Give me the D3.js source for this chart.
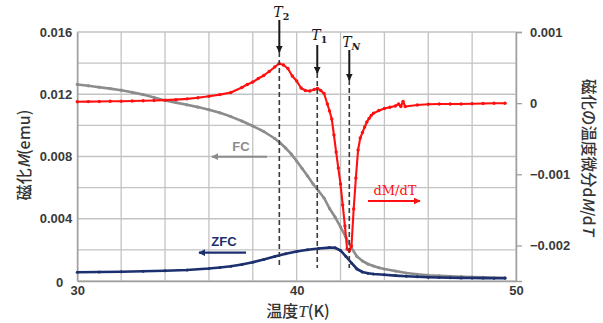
<!DOCTYPE html>
<html>
<head>
<meta charset="utf-8">
<script src="https://cdn.jsdelivr.net/npm/d3@7"></script>
<style>
  html, body { margin: 0; padding: 0; background: #fff; }
  svg { display: block; }
  .tick text { font-family: "Liberation Sans", Arial, sans-serif; font-weight: bold; font-size: 13px; fill: #3a3a3a; }
</style>
</head>
<body>
<svg id="chart" width="603" height="323"></svg>
<script>
// Temperature (K), field-cooled magnetisation (emu)
const fcT = [30,30.5,31,31.5,32,32.5,33,33.5,34,34.5,35,35.5,36,36.5,37,37.5,38,38.5,39,39.25,39.5,39.75,40,40.25,40.5,40.75,41,41.25,41.5,41.75,42,42.25,42.5,42.75,43,43.25,43.5,43.75,44,44.5,45,45.5,46,46.5,47,47.5,48,48.5,49,49.5];
const fcM = [0.01263,0.012543,0.012453,0.012363,0.01226,0.012125,0.011977,0.011798,0.011598,0.011463,0.011322,0.011174,0.011007,0.010808,0.010564,0.010281,0.00996,0.009606,0.009157,0.008867,0.008546,0.008161,0.007711,0.007229,0.006747,0.006233,0.005783,0.005333,0.00466,0.004112,0.00347,0.002795,0.00212,0.001574,0.001285,0.001092,0.000964,0.000855,0.000771,0.000643,0.000514,0.00043,0.000373,0.000334,0.000302,0.000276,0.000257,0.000238,0.000225,0.000212];

// Zero-field-cooled magnetisation (emu)
const zfcT = [30,31,32,33,34,35,36,36.5,37,37.5,38,38.5,39,39.5,40,40.5,41,41.5,41.75,42,42.25,42.5,42.75,43,43.25,43.5,44,44.5,45,45.5,46,46.5,47,47.5,48,48.5,49,49.5];
const zfcM = [0.000559,0.000578,0.000598,0.000623,0.000655,0.000707,0.000803,0.000867,0.000945,0.00106,0.001208,0.001382,0.001574,0.001748,0.001896,0.002005,0.002088,0.002146,0.002134,0.00196,0.001574,0.001157,0.000771,0.000578,0.000495,0.00045,0.000398,0.000347,0.000302,0.00027,0.000244,0.000225,0.000212,0.000199,0.000193,0.000186,0.00018,0.000173];

// Temperature derivative dM/dT (emu/K)
const dT = [30,30.5,31,31.5,32,32.5,33,33.5,34,34.5,35,35.5,36,36.5,37,37.5,37.75,38,38.25,38.5,38.75,39,39.2,39.4,39.6,39.8,40,40.2,40.4,40.6,40.8,40.95,41.1,41.25,41.4,41.5,41.6,41.7,41.8,41.9,42,42.1,42.2,42.3,42.4,42.5,42.6,42.7,42.8,42.9,43,43.1,43.2,43.3,43.4,43.5,43.75,44,44.25,44.5,44.65,44.75,44.85,44.95,45.5,46,46.5,47,47.5,48,48.5,49,49.5];
const dMdT = [0.00002,0.000022,0.000023,0.000026,0.000027,0.00003,0.000034,0.000037,0.000043,0.00005,0.00006,0.000075,0.000096,0.00012,0.00015,0.00022,0.000262,0.000297,0.000346,0.000389,0.000445,0.000508,0.000557,0.000536,0.000487,0.000382,0.000311,0.000213,0.000178,0.000171,0.000192,0.000206,0.000178,0.000136,-0.000012,-0.000111,-0.000223,-0.000448,-0.000687,-0.000912,-0.001137,-0.001432,-0.001727,-0.00205,-0.002078,-0.002008,-0.001488,-0.001052,-0.000659,-0.00049,-0.000413,-0.000335,-0.000265,-0.000216,-0.000174,-0.000143,-0.000103,-0.000075,-0.000058,-0.00004,-0.000012,-0.000047,0.000023,-0.000047,-0.000026,-0.000016,-0.000012,-0.000012,-0.000012,-0.000008,-0.000004,-0.000002,-0.000002];

// Axis ticks
const xTicks = [30, 40, 50];
const xGrid = [30,32,34,36,38,40,42,44,46,48,50];
const leftTicks = [0, 0.004, 0.008, 0.012, 0.016];
const leftGrid = [0,0.002,0.004,0.006,0.008,0.01,0.012,0.014,0.016];
const rightTicks = [0.001, 0, -0.001, -0.002];

// Transition temperatures (K)
const transitions = [
  { sub: "2", T: 39.21 },
  { sub: "1", T: 40.94 },
  { sub: "N", T: 42.40 }
];

const svg = d3.select("#chart");
const L = 77.3, R = 516, Tp = 32, B = 281;

const x = d3.scaleLinear().domain([30, 50]).range([L, R]);
const yL = d3.scaleLinear().domain([0, 0.016]).range([B, Tp]);
const yR = d3.scaleLinear().domain([-0.0025, 0.001]).range([B, Tp]);

const gridColor = "#c3c3c3";

// grid
svg.append("g").selectAll("line").data(xGrid).join("line")
  .attr("x1", d => x(d)).attr("x2", d => x(d)).attr("y1", Tp).attr("y2", B)
  .attr("stroke", gridColor).attr("stroke-width", 1.3);
svg.append("g").selectAll("line").data(leftGrid).join("line")
  .attr("x1", L).attr("x2", R).attr("y1", d => yL(d)).attr("y2", d => yL(d))
  .attr("stroke", gridColor).attr("stroke-width", 1.3);

// axes
const fmtL = d => d === 0 ? "0" : d3.format(".3f")(d);
const gx = svg.append("g").attr("transform", `translate(0,${B})`)
  .call(d3.axisBottom(x).tickValues(xTicks).tickSize(0).tickPadding(5).tickFormat(d3.format("d")));
const gl = svg.append("g").attr("transform", `translate(${L},0)`)
  .call(d3.axisLeft(yL).tickValues(leftTicks).tickSize(0).tickPadding(5).tickFormat(fmtL));
const gr = svg.append("g").attr("transform", `translate(${R},0)`)
  .call(d3.axisRight(yR).tickValues(rightTicks).tickSize(6).tickPadding(8).tickFormat(d => d === 0 ? "0" : d3.format(".3f")(d)));
[gx, gl, gr].forEach(g => {
  g.select(".domain").attr("stroke", "#a0a0a0").attr("stroke-width", 1.5);
  g.selectAll(".tick line").attr("stroke", "#a0a0a0").attr("stroke-width", 1.3);
});
gl.selectAll(".tick text").filter(d => d === 0).attr("dx", -9).attr("dy", "0.45em");

// axis titles
const cjk = "'Noto Sans CJK JP', 'Noto Sans', sans-serif";
const xt = svg.append("text").attr("x", 298).attr("y", 317)
  .attr("text-anchor", "middle").attr("font-family", cjk).attr("font-size", 16)
  .attr("font-weight", 500).attr("fill", "#333");
xt.append("tspan").text("温度");
xt.append("tspan").attr("font-style", "italic").attr("font-family", "'Liberation Serif', serif").attr("font-size", 17).text("T");
xt.append("tspan").text("(K)");

const ylt = svg.append("text").attr("transform", "translate(30,155) rotate(-90)")
  .attr("text-anchor", "middle").attr("font-family", cjk).attr("font-size", 16)
  .attr("font-weight", 500).attr("fill", "#333");
ylt.append("tspan").text("磁化");
ylt.append("tspan").attr("font-style", "italic").text("M");
ylt.append("tspan").text("(emu)");

const yrt = svg.append("text").attr("transform", "translate(583,157) rotate(90)")
  .attr("text-anchor", "middle").attr("font-family", cjk).attr("font-size", 15.5)
  .attr("font-weight", 500).attr("fill", "#333");
yrt.append("tspan").text("磁化の温度微分d");
yrt.append("tspan").attr("font-style", "italic").text("M");
yrt.append("tspan").text("/d");
yrt.append("tspan").attr("font-style", "italic").text("T");

// series
function series(Ts, Vs, yScale, color, width, r) {
  const pts = Ts.map((t, i) => [x(t), yScale(Vs[i])]);
  svg.append("path").attr("d", d3.line()(pts))
    .attr("fill", "none").attr("stroke", color).attr("stroke-width", width)
    .attr("stroke-linejoin", "round");
  svg.append("g").selectAll("circle").data(pts).join("circle")
    .attr("cx", d => d[0]).attr("cy", d => d[1]).attr("r", r).attr("fill", color);
}
series(fcT, fcM, yL, "#8c8c8c", 2.6, 1.6);
series(zfcT, zfcM, yL, "#1c2f6e", 2.6, 1.5);
series(dT, dMdT, yR, "#ff1010", 2.1, 1.7);

// arrow markers
const defs = svg.append("defs");
function arrowHead(id, color, size) {
  defs.append("marker").attr("id", id).attr("viewBox", "0 0 10 10")
    .attr("refX", 9).attr("refY", 5).attr("markerWidth", size).attr("markerHeight", size)
    .attr("markerUnits", "userSpaceOnUse").attr("orient", "auto")
    .append("path").attr("d", "M0,0L10,5L0,10Z").attr("fill", color);
}
arrowHead("ah-black", "#1a1a1a", 7);
arrowHead("ah-gray", "#8c8c8c", 7);
arrowHead("ah-navy", "#1c2f6e", 7);
arrowHead("ah-red", "#ff1010", 7);

// transition markers
const arrowY = { "2": [20, 52], "1": [45, 73], "N": [50, 80] };
const labelY = { "2": 17, "1": 40, "N": 47 };
transitions.forEach(tr => {
  const xp = x(tr.T);
  const [a0, a1] = arrowY[tr.sub];
  svg.append("line").attr("x1", xp).attr("x2", xp).attr("y1", a1).attr("y2", 268)
    .attr("stroke", "#3a3a3a").attr("stroke-width", 1.6).attr("stroke-dasharray", "5,3");
  svg.append("line").attr("x1", xp).attr("x2", xp).attr("y1", a0).attr("y2", a1)
    .attr("stroke", "#1a1a1a").attr("stroke-width", 2).attr("marker-end", "url(#ah-black)");
  const t = svg.append("text").attr("x", xp + 2).attr("y", labelY[tr.sub])
    .attr("text-anchor", "middle").attr("font-family", "'DejaVu Serif', serif")
    .attr("fill", "#1a1a1a");
  t.append("tspan").attr("font-style", "italic").attr("font-size", 14).text("T");
  t.append("tspan").attr("font-style", tr.sub === "N" ? "italic" : "normal")
    .attr("font-size", 9.5).attr("font-weight", "bold").attr("dy", 3).text(tr.sub);
});

// series labels
svg.append("text").attr("x", 241).attr("y", 150.5).attr("text-anchor", "middle")
  .attr("font-family", "'Liberation Sans', Arial, sans-serif").attr("font-weight", "bold")
  .attr("font-size", 13).attr("fill", "#8c8c8c").text("FC");
svg.append("line").attr("x1", 267).attr("x2", 212).attr("y1", 156.7).attr("y2", 156.7)
  .attr("stroke", "#8c8c8c").attr("stroke-width", 2).attr("marker-end", "url(#ah-gray)");

svg.append("text").attr("x", 224).attr("y", 246).attr("text-anchor", "middle")
  .attr("font-family", "'Liberation Sans', Arial, sans-serif").attr("font-weight", "bold")
  .attr("font-size", 13).attr("fill", "#1c2f6e").text("ZFC");
svg.append("line").attr("x1", 246).attr("x2", 199).attr("y1", 252.7).attr("y2", 252.7)
  .attr("stroke", "#1c2f6e").attr("stroke-width", 2.2).attr("marker-end", "url(#ah-navy)");

svg.append("text").attr("x", 395).attr("y", 195).attr("text-anchor", "middle")
  .attr("font-family", "'DejaVu Serif', serif").attr("font-size", 13)
  .attr("fill", "#ff1010").text("dM/dT");
svg.append("line").attr("x1", 368).attr("x2", 420).attr("y1", 201).attr("y2", 201)
  .attr("stroke", "#ff1010").attr("stroke-width", 2).attr("marker-end", "url(#ah-red)");
</script>
</body>
</html>
